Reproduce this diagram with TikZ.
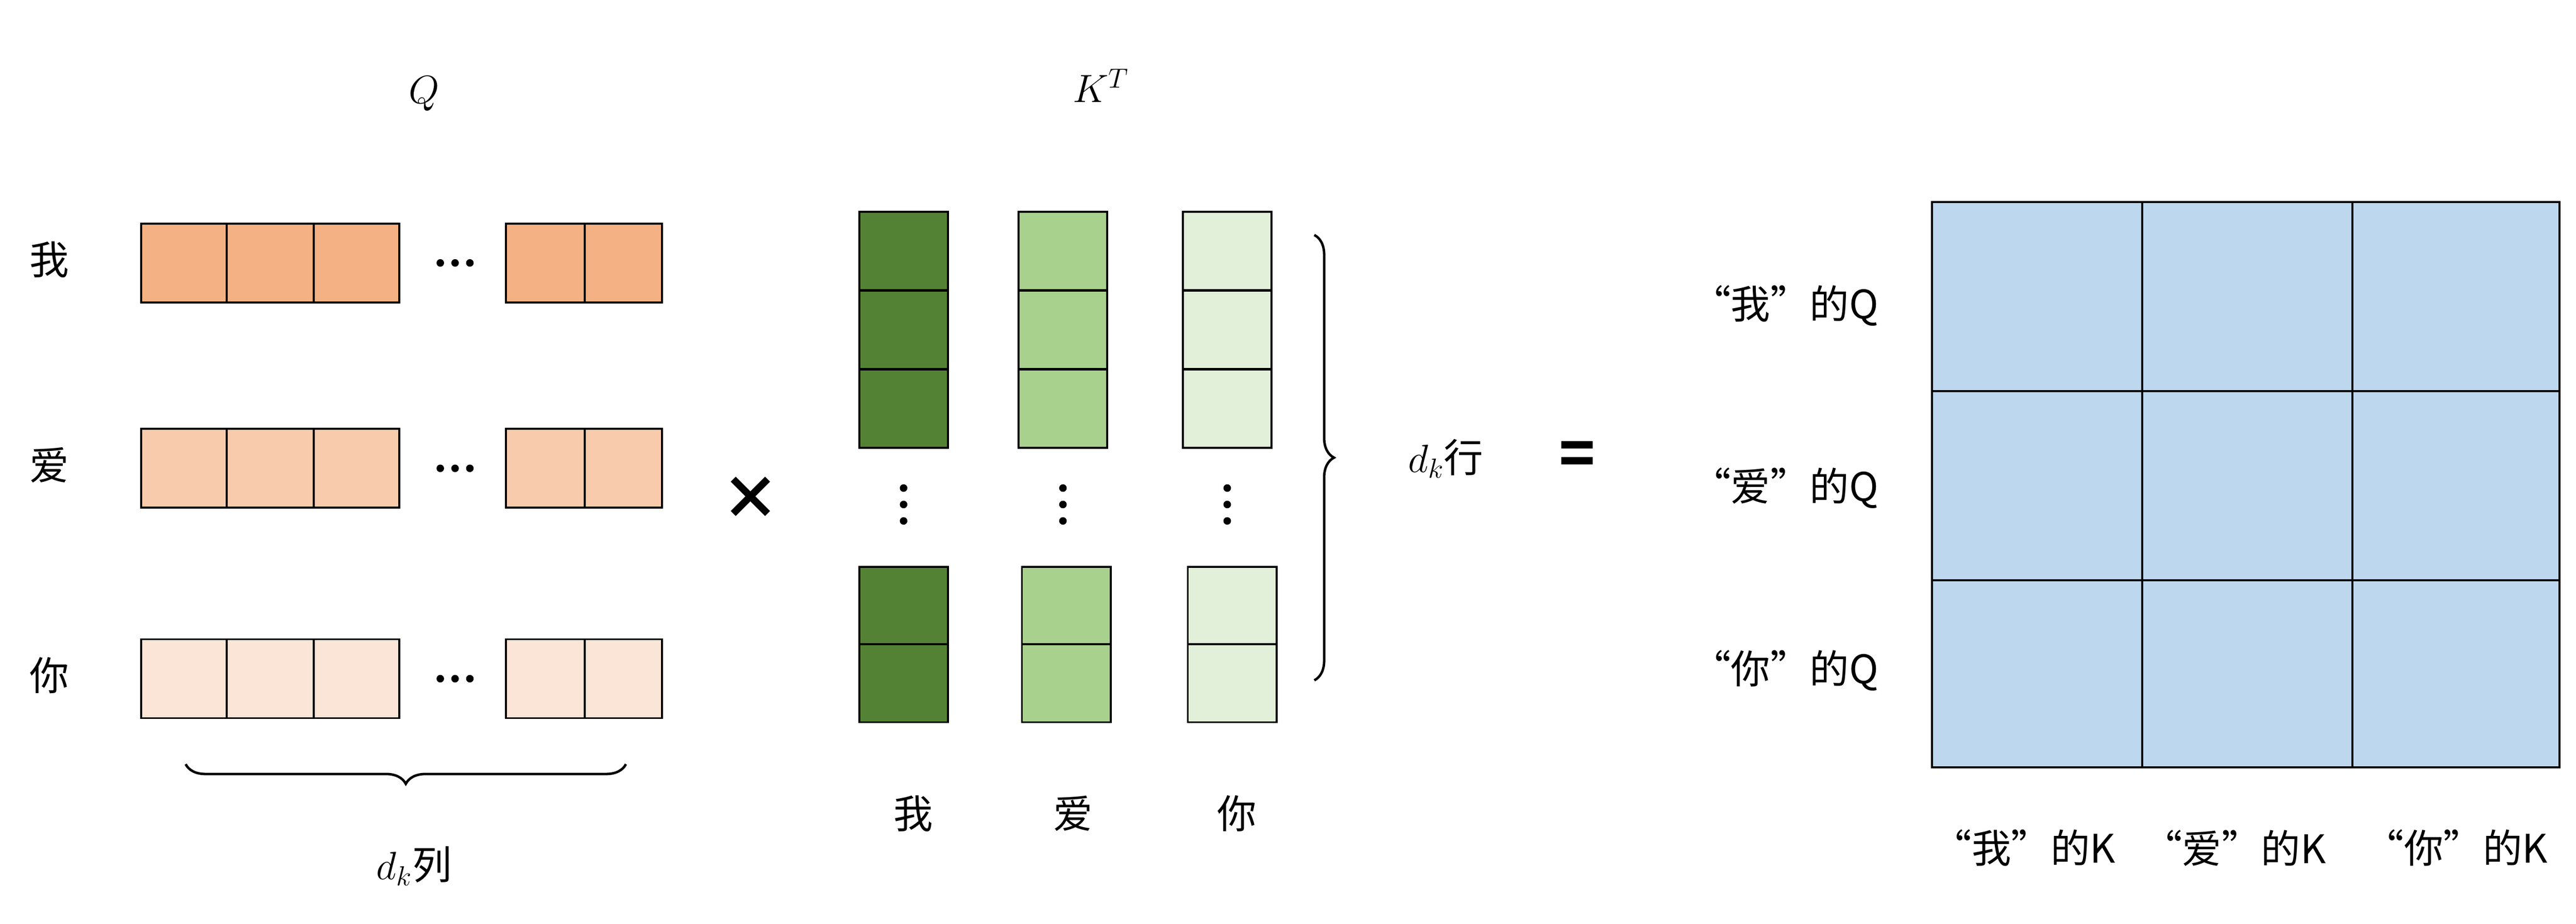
\RequirePackage{fix-cm}
\documentclass[tikz,border=0pt]{standalone}
\usepackage{fontspec}
\setmainfont{Noto Sans CJK SC}
\usetikzlibrary{decorations.pathreplacing}
\definecolor{qa}{HTML}{F4B183}\definecolor{qb}{HTML}{F8CBAD}\definecolor{qc}{HTML}{FBE5D6}
\definecolor{ka}{HTML}{548235}\definecolor{kb}{HTML}{A9D18E}\definecolor{kc}{HTML}{E2F0D9}
\definecolor{gr}{HTML}{BDD7EE}
\begin{document}
\begin{tikzpicture}[x=1pt,y=-1pt,
  cell/.style={draw=black,line width=1.2pt},
  lbl/.style={font=\fontsize{24}{28}\selectfont},
  brc/.style={decorate,decoration={brace,amplitude=12pt},line width=1.5pt}]
\useasboundingbox (0,0) rectangle (1568,562);
% Q
\node[lbl] (q) at (258,57) {$Q$};
\foreach \y/\c/\t/\n in {136/qa/我/a,261/qb/爱/b,389/qc/你/c}{
  \foreach \x/\w in {86/52,138/53,191/52,308/48,356/47}
    \draw[cell,fill=\c] (\x,\y) rectangle ++(\w,48);
  \node[lbl] (r\n) at (30,\y+22) {\t};
  \foreach \dx in {-9,0,9} \fill (277+\dx,\y+24) circle (2.3);
}
\draw[brc] (381,465) -- (113,465) coordinate[pos=0.5] (bq);
\node[lbl] (dkl) at (252,527) {$d_k$列};
\node[font=\fontsize{36}{36}\selectfont\bfseries] (times) at (457,303) {×};
% K^T
\node[lbl] (kt) at (670,52) {$K^T$};
\foreach \x/\bx/\c/\t/\n in {523/523/ka/我/a,620/622/kb/爱/b,720/723/kc/你/c}{
  \foreach \y in {129,177,225} \draw[cell,fill=\c] (\x,\y) rectangle ++(54,47.5);
  \foreach \y in {345,392} \draw[cell,fill=\c] (\bx,\y) rectangle ++(54,47.5);
  \foreach \dy in {-10,0,10} \fill (\x+27,307+\dy) circle (2.3);
  \node[lbl] (k\n) at (\x+33,495) {\t};
}
\draw[brc] (800,143) -- (800,414) coordinate[pos=0.5] (bk);
\node[lbl] (dkr) at (880,279) {$d_k$行};
\node[font=\fontsize{36}{36}\selectfont\bfseries] (eq) at (960,279) {=};
% grid
\fill[gr] (1176,123) rectangle (1558,467);
\foreach \x in {1304,1432} \draw[line width=1.2pt] (\x,123) -- (\x,467);
\foreach \y in {238,353} \draw[line width=1.2pt] (1176,\y) -- (1558,\y);
\draw[line width=1.2pt] (1176,123) rectangle (1558,467);
\node[lbl,anchor=east] (la) at (1147,186) {“我”的Q};
\node[lbl,anchor=east] (lb) at (1147,297) {“爱”的Q};
\node[lbl,anchor=east] (lc) at (1147,408) {“你”的Q};
\node[lbl] (ca) at (1232,516) {“我”的K};
\node[lbl] (cb) at (1360,516) {“爱”的K};
\node[lbl] (cc) at (1495,516) {“你”的K};
\end{tikzpicture}
\end{document}
